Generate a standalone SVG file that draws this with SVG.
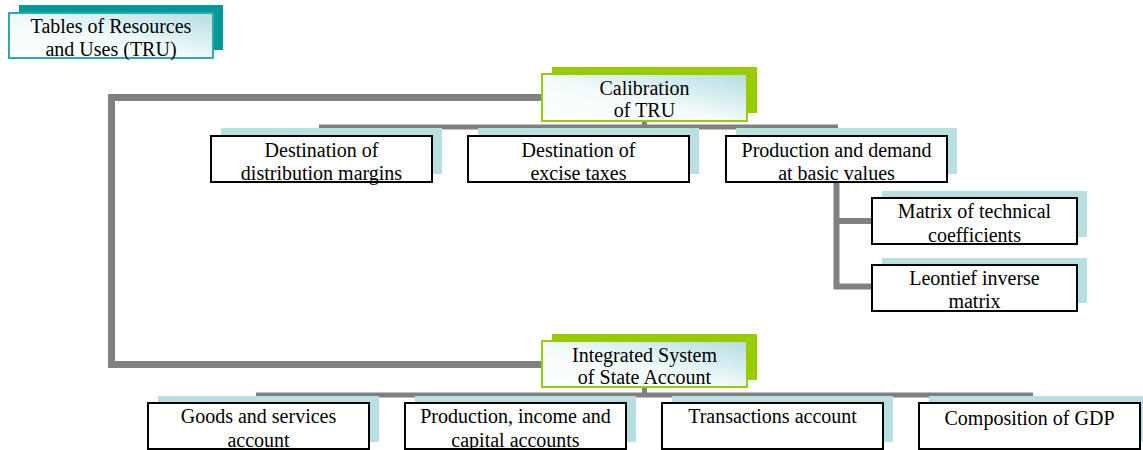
<svg xmlns="http://www.w3.org/2000/svg" width="1143" height="450" viewBox="0 0 1143 450">
<defs>
<linearGradient id="g" x1="0" y1="1" x2="1" y2="0">
<stop offset="0" stop-color="#ffffff"/>
<stop offset="0.45" stop-color="#f4fbfb"/>
<stop offset="1" stop-color="#b4dde1"/>
</linearGradient>
<style>
.t{font-family:'Liberation Serif','DejaVu Serif',serif;font-size:20px;fill:#000;text-anchor:middle}
.sh{fill:#b8dfe1}
.bx{fill:#fff;stroke:#000;stroke-width:2}
.gs{fill:#99cc00}
.gb{fill:url(#g);stroke:#99cc00;stroke-width:2}
.ts{fill:#009999}
.tb{fill:url(#g);stroke:#2eaaaa;stroke-width:2}
.c{fill:none;stroke:#808080;stroke-linejoin:miter}
</style>
</defs>
<rect width="1143" height="450" fill="#fff"/>
<g id="connectors">
<path class="c" stroke-width="7" d="M542 97.5 H111.5 V364.5 H542"/>
<path class="c" stroke-width="5" d="M644.5 121 V127 M319 127 H838"/>
<path class="c" stroke-width="6" d="M836.5 182 V286.5 H872 M836.5 221 H872"/>
<path class="c" stroke-width="5" d="M644.5 387 V395 M256 395 H1033"/>
</g>
<g id="n-tru">
<rect class="ts" x="19" y="5" width="204" height="45"/>
<rect class="tb" x="9" y="13" width="204" height="45"/>
<text class="t" x="111" y="33">Tables of Resources</text>
<text class="t" x="111" y="56">and Uses (TRU)</text>
</g>
<g id="n-calib">
<rect class="gs" x="552" y="67" width="205" height="46"/>
<rect class="gb" x="542" y="74" width="205" height="47"/>
<text class="t" x="644.5" y="95">Calibration</text>
<text class="t" x="644.5" y="117">of TRU</text>
</g>
<g id="n-margins">
<rect class="sh" x="221" y="128" width="221" height="46"/>
<rect class="bx" x="211" y="136" width="221" height="46"/>
<text class="t" x="321.5" y="157">Destination of</text>
<text class="t" x="321.5" y="180">distribution margins</text>
</g>
<g id="n-excise">
<rect class="sh" x="478" y="128" width="221" height="46"/>
<rect class="bx" x="468" y="136" width="221" height="46"/>
<text class="t" x="578.5" y="157">Destination of</text>
<text class="t" x="578.5" y="180">excise taxes</text>
</g>
<g id="n-prod">
<rect class="sh" x="736" y="128" width="221" height="46"/>
<rect class="bx" x="726" y="136" width="221" height="46"/>
<text class="t" x="836.5" y="157">Production and demand</text>
<text class="t" x="836.5" y="180">at basic values</text>
</g>
<g id="n-matrix">
<rect class="sh" x="882" y="191" width="205" height="46"/>
<rect class="bx" x="872" y="198" width="205" height="46"/>
<text class="t" x="974.5" y="218">Matrix of technical</text>
<text class="t" x="974.5" y="242">coefficients</text>
</g>
<g id="n-leontief">
<rect class="sh" x="882" y="258" width="205" height="45"/>
<rect class="bx" x="872" y="265" width="205" height="46"/>
<text class="t" x="974.5" y="285">Leontief inverse</text>
<text class="t" x="974.5" y="308">matrix</text>
</g>
<g id="n-isa">
<rect class="gs" x="552" y="334" width="205" height="46"/>
<rect class="gb" x="542" y="341" width="205" height="46"/>
<text class="t" x="644.5" y="362">Integrated System</text>
<text class="t" x="644.5" y="384">of State Account</text>
</g>
<g id="n-goods">
<rect class="sh" x="158" y="396" width="221" height="46"/>
<rect class="bx" x="148" y="403" width="221" height="46"/>
<text class="t" x="258.5" y="423">Goods and services</text>
<text class="t" x="258.5" y="447">account</text>
</g>
<g id="n-pica">
<rect class="sh" x="415" y="396" width="221" height="46"/>
<rect class="bx" x="405" y="403" width="221" height="46"/>
<text class="t" x="515.5" y="423">Production, income and</text>
<text class="t" x="515.5" y="447">capital accounts</text>
</g>
<g id="n-trans">
<rect class="sh" x="672" y="396" width="221" height="46"/>
<rect class="bx" x="662" y="403" width="221" height="46"/>
<text class="t" x="772.5" y="423">Transactions account</text>
</g>
<g id="n-gdp">
<rect class="sh" x="929" y="396" width="221" height="46"/>
<rect class="bx" x="919" y="403" width="221" height="46"/>
<text class="t" x="1029.5" y="425">Composition of GDP</text>
</g>
</svg>
